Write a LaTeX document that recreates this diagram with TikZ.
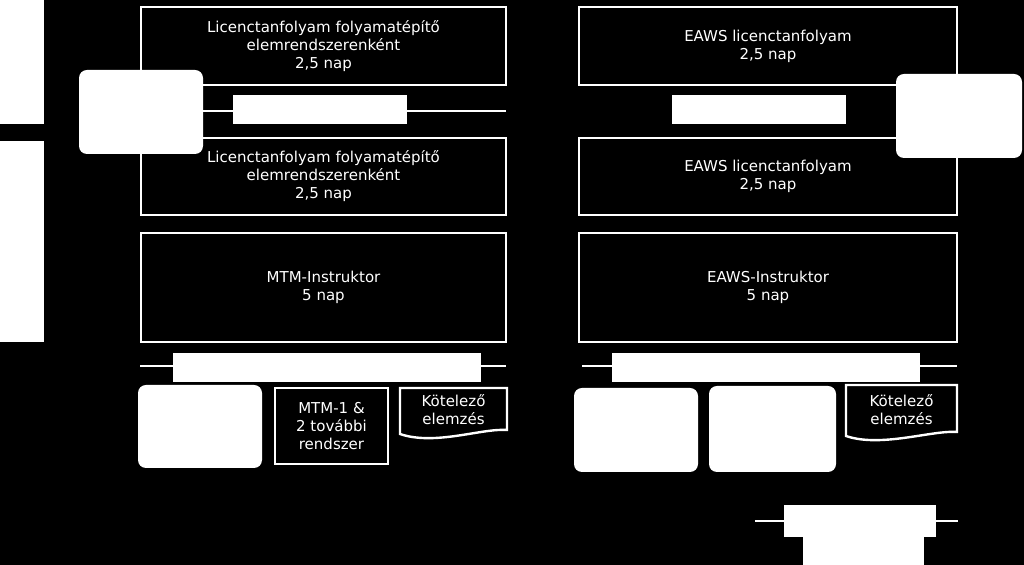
\documentclass[tikz,border=0pt]{standalone}
\usepackage{fontspec}
\setmainfont{DejaVu Sans}
\usetikzlibrary{positioning}
\tikzset{
  kurzus/.style={draw=white, line width=1.2pt, fill=black, text=white, align=center, font=\fontsize{7.5}{9}\selectfont},
  doboz/.style={fill=white, rounded corners=4pt},
  sav/.style={fill=white},
  vonal/.style={draw=white, line width=1pt},
  dok/.style={draw=white, line width=1.2pt, fill=black}
}
\newcommand{\kurzusbox}[5]{% name, x1, y1, x2, y2
  \path[kurzus] (#2,#3) rectangle (#4,#5);
  \coordinate (#1) at ({(#2+#4)/2},{(#3+#5)/2});}
\newcommand{\dokbox}[5]{%
  \path[dok] (#2,#3) -- (#4,#3) -- (#4,{#5-8}) .. controls ({#4-25},{#5-10}) and ({#2+35},{#5+8}) .. (#2,{#5-4}) -- cycle;
  \coordinate (#1) at ({(#2+#4)/2},{(#3+#5)/2-3});}
\begin{document}
\begin{tikzpicture}[x=0.5pt, y=-0.5pt]
  \fill[black] (0,0) rectangle (1024,565);
  % left bar
  \fill[white] (0,0) rectangle (44,124);
  \fill[white] (0,141) rectangle (44,342);

  % MTM side
  \kurzusbox{a1}{141}{7}{506}{85}
  \node[text=white, align=center, font=\fontsize{7.5}{9}\selectfont] (ta1) at (a1) {Licenctanfolyam folyamatépítő\\elemrendszerenként\\2,5 nap};
  \kurzusbox{a2}{141}{138}{506}{215}
  \node[text=white, align=center, font=\fontsize{7.5}{9}\selectfont] (ta2) at (a2) {Licenctanfolyam folyamatépítő\\elemrendszerenként\\2,5 nap};
  \fill[doboz] (79,70) rectangle (203,154) coordinate (ra);
  \coordinate (la) at (203,111);
  \coordinate (lae) at (506,111);
  \draw[vonal] (la) -- (lae);
  \fill[sav] (233,95) rectangle (407,124);
  \kurzusbox{a3}{141}{233}{506}{342}
  \node[text=white, align=center, font=\fontsize{7.5}{9}\selectfont] (ta3) at (a3) {MTM-Instruktor\\5 nap};
  \coordinate (lb) at (140,366);
  \coordinate (lbe) at (506,366);
  \draw[vonal] (lb) -- (lbe);
  \fill[sav] (173,353) rectangle (481,382);
  \fill[doboz] (138,385) rectangle (262,468);
  \kurzusbox{a4}{275}{388}{388}{464}
  \node[text=white, align=center, font=\fontsize{7.5}{9}\selectfont] (ta4) at (a4) {MTM-1 \&\\2 további\\rendszer};
  \dokbox{a5}{400}{388}{507}{438}
  \node[text=white, align=center, font=\fontsize{7.5}{9}\selectfont] (ta5) at (a5) {Kötelező\\elemzés};

  % EAWS side
  \kurzusbox{b1}{579}{7}{957}{85}
  \node[text=white, align=center, font=\fontsize{7.5}{9}\selectfont] (tb1) at (b1) {EAWS licenctanfolyam\\2,5 nap};
  \kurzusbox{b2}{579}{138}{957}{215}
  \node[text=white, align=center, font=\fontsize{7.5}{9}\selectfont] (tb2) at (b2) {EAWS licenctanfolyam\\2,5 nap};
  \fill[doboz] (896,74) rectangle (1022,158);
  \fill[sav] (672,95) rectangle (846,124);
  \kurzusbox{b3}{579}{233}{957}{342}
  \node[text=white, align=center, font=\fontsize{7.5}{9}\selectfont] (tb3) at (b3) {EAWS-Instruktor\\5 nap};
  \coordinate (lc) at (582,366);
  \coordinate (lce) at (957,366);
  \draw[vonal] (lc) -- (lce);
  \fill[sav] (612,353) rectangle (920,382);
  \fill[doboz] (574,388) rectangle (698,472);
  \fill[doboz] (709,386) rectangle (836,472);
  \dokbox{b5}{846}{385}{957}{440}
  \node[text=white, align=center, font=\fontsize{7.5}{9}\selectfont] (tb5) at (b5) {Kötelező\\elemzés};
  \coordinate (ld) at (755,521);
  \coordinate (lde) at (958,521);
  \draw[vonal] (ld) -- (lde);
  \fill[sav] (784,505) rectangle (936,537);
  \fill[sav] (803,537) rectangle (924,565);
\end{tikzpicture}
\end{document}
